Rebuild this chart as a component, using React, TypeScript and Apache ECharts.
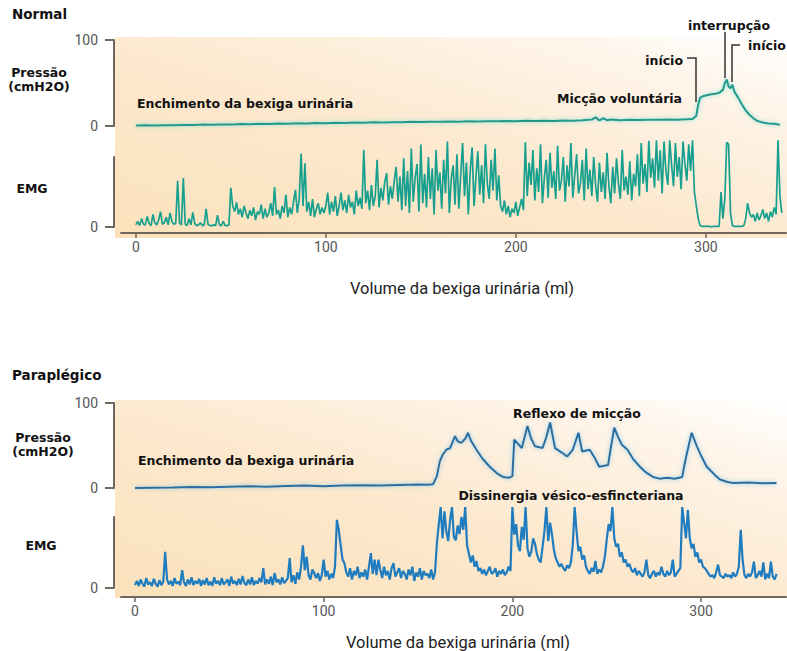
import React, { useEffect, useRef } from 'react';
import * as echarts from 'echarts';

// ---------- data ----------
const xTickValues = [0, 100, 200, 300];
const pressureTickValues = [0, 100];
const emgTickValues = [0];

const normalPressureMl = [0,5,10,15,20,25,30,35,40,45,50,55,60,65,70,75,80,85,90,95,100,105,110,115,120,125,130,135,140,145,150,155,160,165,170,175,180,185,190,195,200,205,210,215,220,225,230,235,240,242,244,246,248,250,255,260,265,270,275,280,285,290,293,295,296,297,299,301,303,305,307,309,310,311,312,313,314,315,317,319,321,323,325,327,330,333,336,339];
const normalPressure = [0.5,0.8,0.6,1.0,0.9,1.3,1.1,1.6,1.4,1.8,1.6,2.2,2.0,2.5,2.3,3.0,2.6,3.2,2.9,3.5,3.2,3.8,3.5,4.0,3.8,4.3,4.0,4.5,4.3,4.8,4.6,5.0,4.8,5.3,5.0,5.5,5.2,5.6,5.4,5.8,5.5,6.0,5.7,6.1,5.9,6.3,6.0,6.6,7.5,10,6.5,9,6.8,7.5,6.8,7.2,7.0,7.4,7.2,7.6,7.4,7.8,8.2,12,25,33,35,36,37,37.5,38.5,42,50,54,46,44,48,40,33,25,18,13,9,6,4,3,2.5,1.5];

// EMG sampled every 1 ml from 0 to 340
const normalEmg = [
  3,8,2,12,4,3,15,5,2,18,6,3,10,22,4,6,14,3,20,8,
  4,5,66,6,3,70,4,2,12,3,21,5,2,3,6,2,3,26,4,2,
  2,3,2,17,3,2,8,2,2,3,56,30,22,35,18,26,14,30,20,12,
  24,16,28,10,22,18,32,12,26,14,20,34,16,57,18,24,12,30,20,46,
  14,28,18,36,53,20,40,105,30,91,22,36,16,40,14,26,34,18,28,20,
  30,49,18,36,22,44,16,30,49,24,38,20,46,28,36,18,52,30,42,26,
  110,34,52,24,60,30,44,96,28,56,38,64,77,32,58,40,66,86,36,72,
  24,98,30,80,20,112,36,70,90,22,118,34,76,28,100,40,84,18,110,52,
  78,26,96,48,122,20,68,88,32,104,26,74,120,44,92,18,80,114,30,70,
  108,46,88,34,118,62,40,96,52,112,38,74,30,22,38,18,30,14,26,20,
  36,16,28,40,24,121,44,92,60,110,38,84,50,118,34,70,96,42,106,56,
  80,40,116,52,66,100,36,88,58,120,42,74,104,48,62,96,38,112,54,82,
  44,100,60,36,92,50,78,40,106,58,34,86,48,98,62,40,110,52,72,46,
  94,38,76,58,104,44,120,62,90,50,123,70,98,56,124,66,110,48,122,80,
  60,124,88,58,120,72,100,54,122,90,66,118,80,124,50,30,12,2,1,1,
  1,1,1,0,1,1,1,1,50,12,40,121,118,20,2,1,1,1,1,1,
  2,12,34,20,14,18,8,20,10,16,25,12,20,8,22,14,28,18,124,44,20
];

const paraPressureMl = [0,10,20,30,40,50,60,70,80,90,100,110,120,130,140,150,155,158,160,161.5,163,165,167,169.6,171,173,175,176.5,178,181,184,188,192,195,198,200,201,203,205,208,210,212,216,218,220,222.6,226,229,232,235,237,241,244,246,250.7,252,254,256,258,261,264,267.6,271,274.5,278,282,286,290,291,292.5,295,297.8,300,303,307,310,314,317,325,333,340];
const paraPressure = [0,0.3,0.5,1.2,0.8,1.5,2.0,1.6,2.4,2.8,2.2,3.0,3.3,2.9,3.6,4.2,3.8,4.5,14,31,39,45,47,61,55,53,58,65,56,45,35,25,17,13,12,14,57,52,47,73,58,49,47,60,77,47,42,37,45,65,43,45,34,25,27,45,71,60,51,45,34,25,18,13,11,12,11,13,25,41,65,49,38,25,16,10,7,6,6.5,5.5,6];

const paraEmg = [
  4,10,3,12,6,2,14,5,8,3,13,6,2,11,4,9,51,12,5,10,
  3,14,6,9,4,25,8,3,12,5,15,4,10,6,13,3,11,5,14,4,
  9,3,15,6,10,4,14,5,8,12,3,16,6,10,4,13,5,17,7,4,
  12,5,15,4,10,6,14,8,28,5,12,6,16,4,21,8,12,5,15,7,
  10,14,42,8,18,6,22,12,30,60,25,44,18,12,26,21,14,21,10,18,
  40,16,24,12,20,14,30,96,82,60,40,35,22,16,28,12,24,18,30,14,
  22,16,26,12,30,49,20,40,18,40,26,14,30,18,24,12,28,35,16,22,
  28,14,24,20,12,26,18,30,10,22,16,28,12,24,18,20,14,26,12,22,
  63,90,114,70,108,80,66,96,114,72,67,88,76,100,82,114,60,48,36,46,
  30,38,24,28,20,26,18,24,30,20,22,28,16,24,20,26,18,22,30,24,
  114,75,90,60,52,86,68,114,56,44,51,70,62,48,40,36,58,80,114,66,
  92,75,54,42,36,30,34,28,24,32,28,36,60,114,80,52,58,40,46,30,
  24,20,28,23,38,20,26,22,30,44,68,90,80,114,70,58,62,44,50,36,
  40,30,34,26,22,28,18,24,20,16,22,40,18,14,20,24,16,22,18,30,
  20,16,24,18,22,40,16,20,24,28,114,92,70,110,70,56,62,44,50,36,
  40,30,28,24,20,16,18,14,22,33,18,16,14,20,16,18,14,22,16,20,
  30,82,40,18,14,20,16,22,37,14,18,24,16,36,12,20,14,37,16,12,20
];

// ---------- styling ----------
const AXIS = '#6f675e';
const NUM_FONT = 'Roboto, "Open Sans", sans-serif';
const BOLD_FONT = '"DejaVu Sans", Verdana, sans-serif';

const pairs = (xs: number[], ys: number[]) => ys.map((v, i) => [xs[i], v]);
const indexed = (ys: number[]) => ys.map((v, i) => [i, v]);

function yAxisCfg(gridIndex: number, ticks: number[]) {
  return {
    gridIndex, type: 'value', min: 0, max: 100, offset: 7,
    axisLine: { show: true, onZero: false, lineStyle: { color: AXIS, width: 2 } },
    axisTick: { show: true, length: 9, customValues: ticks, lineStyle: { color: AXIS, width: 2 } },
    axisLabel: { show: true, customValues: ticks, margin: 16, fontFamily: NUM_FONT, fontSize: 14, color: '#555' },
    splitLine: { show: false },
  };
}

function xAxisCfg(gridIndex: number, min: number, max: number, visible: boolean, offset: number) {
  if (!visible) return { gridIndex, type: 'value', min, max, show: false };
  return {
    gridIndex, type: 'value', min, max, position: 'bottom', offset,
    axisLine: { show: true, onZero: false, lineStyle: { color: AXIS, width: 2 } },
    axisTick: { show: true, length: 5, customValues: xTickValues, lineStyle: { color: AXIS, width: 1.5 } },
    axisLabel: { show: true, customValues: xTickValues, margin: 7, fontFamily: NUM_FONT, fontSize: 14, color: '#555' },
    splitLine: { show: false },
  };
}

function bg(y: number, h: number) {
  return {
    type: 'rect', z: -1, silent: true,
    shape: { x: 115, y, width: 672, height: h },
    style: {
      fill: new echarts.graphic.LinearGradient(0, 1, 1, 0, [
        { offset: 0, color: '#fbe2bc' },
        { offset: 0.45, color: '#fce8cd' },
        { offset: 0.8, color: '#fef4e8' },
        { offset: 1, color: '#ffffff' },
      ]),
    },
  };
}

function txt(text: string, x: number, y: number, opts: any = {}) {
  return {
    type: 'text', x, y, z: 10, silent: true,
    style: {
      text, fill: opts.fill || '#111',
      fontFamily: opts.fontFamily || BOLD_FONT,
      fontSize: opts.fontSize || 12.5,
      fontWeight: opts.fontWeight || 'bold',
      align: opts.align || 'left', verticalAlign: 'middle',
    },
  };
}

function pline(points: number[][]) {
  return { type: 'polyline', z: 10, silent: true, shape: { points }, style: { stroke: '#333', lineWidth: 1.5, fill: null } };
}

export default function App() {
  const ref = useRef<HTMLDivElement>(null);
  useEffect(() => {
    const chart = echarts.init(ref.current!, null, { renderer: 'svg' });
    const option: any = {
      animation: false,
      backgroundColor: '#ffffff',
      grid: [
        { left: 121, top: 40, width: 665, height: 86, outerBoundsMode: 'none' },
        { left: 121, top: 157, width: 665, height: 70, outerBoundsMode: 'none' },
        { left: 121, top: 403, width: 665, height: 85, outerBoundsMode: 'none' },
        { left: 121, top: 517, width: 665, height: 71, outerBoundsMode: 'none' },
      ],
      xAxis: [
        xAxisCfg(0, -7.8, 342.2, false, 0),
        xAxisCfg(1, -7.8, 342.2, true, 6),
        xAxisCfg(2, -7.4, 345, false, 0),
        xAxisCfg(3, -7.4, 345, true, 9),
      ],
      yAxis: [
        yAxisCfg(0, pressureTickValues),
        yAxisCfg(1, emgTickValues),
        yAxisCfg(2, pressureTickValues),
        yAxisCfg(3, emgTickValues),
      ],
      series: [
        {
          type: 'line', xAxisIndex: 0, yAxisIndex: 0, data: pairs(normalPressureMl, normalPressure),
          showSymbol: false, clip: false,
          lineStyle: { color: '#22998a', width: 2, shadowColor: 'rgba(120,225,215,0.9)', shadowBlur: 4 },
        },
        {
          type: 'line', xAxisIndex: 1, yAxisIndex: 1, data: indexed(normalEmg),
          showSymbol: false, clip: false,
          lineStyle: { color: '#17a08f', width: 1.7 },
        },
        {
          type: 'line', xAxisIndex: 2, yAxisIndex: 2, data: pairs(paraPressureMl, paraPressure),
          showSymbol: false, clip: false,
          lineStyle: { color: '#2a6e9f', width: 2, shadowColor: 'rgba(130,200,235,0.9)', shadowBlur: 4 },
        },
        {
          type: 'line', xAxisIndex: 3, yAxisIndex: 3, data: indexed(paraEmg),
          showSymbol: false, clip: false,
          lineStyle: { color: '#1f7cbf', width: 2.2 },
        },
      ],
      graphic: [
        bg(37, 201),
        bg(400, 198),
        txt('Normal', 12, 14, { fontSize: 13.5 }),
        txt('Pressão', 39, 72, { align: 'center' }),
        txt('(cmH2O)', 39, 86, { align: 'center' }),
        txt('EMG', 32, 188, { align: 'center' }),
        txt('Enchimento da bexiga urinária', 137, 103),
        txt('Micção voluntária', 557, 98),
        txt('início', 683, 60, { align: 'right' }),
        pline([[687, 58], [696, 58], [696, 102]]),
        txt('interrupção', 729, 25, { align: 'center' }),
        pline([[725, 32], [725, 78]]),
        txt('início', 748, 45),
        pline([[740, 45], [732, 45], [732, 82]]),
        txt('Volume da bexiga urinária (ml)', 462, 288, { align: 'center', fontFamily: NUM_FONT, fontWeight: 'normal', fontSize: 16.5, fill: '#222' }),

        txt('Paraplégico', 12, 375, { fontSize: 13.5 }),
        txt('Pressão', 43, 437, { align: 'center' }),
        txt('(cmH2O)', 43, 451, { align: 'center' }),
        txt('EMG', 41, 545, { align: 'center' }),
        txt('Enchimento da bexiga urinária', 138, 460),
        txt('Reflexo de micção', 577, 413, { align: 'center' }),
        txt('Dissinergia vésico-esfincteriana', 571, 495, { align: 'center' }),
        txt('Volume da bexiga urinária (ml)', 458, 642, { align: 'center', fontFamily: NUM_FONT, fontWeight: 'normal', fontSize: 16.5, fill: '#222' }),
      ],
    };
    chart.setOption(option);
    return () => chart.dispose();
  }, []);
  return <div ref={ref} style={{ position: 'fixed', left: 0, top: 0, width: 787, height: 651, background: '#fff' }} />;
}
